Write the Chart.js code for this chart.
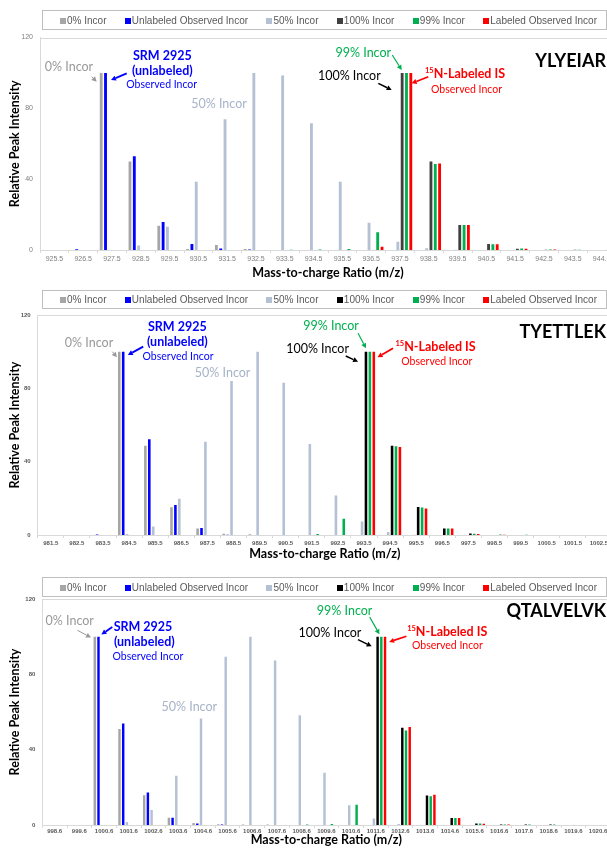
<!DOCTYPE html>
<html lang="en">
<head>
  <meta charset="UTF-8" />
  <title>Isotope distributions</title>
  <script src="https://cdn.jsdelivr.net/npm/chart.js"></script>
  <style>
    html, body { margin: 0; padding: 0; background: #fff; }
    body { width: 607px; height: 848px; overflow: hidden; position: relative; }
    .panel { position: absolute; left: 0; width: 620px; }
    .panel canvas { display: block; }
    .legend {
      position: absolute;
      left: 42px;
      width: 565px;
      box-sizing: border-box;
      border: 1px solid #bfbfbf;
      display: flex;
      align-items: center;
      justify-content: space-between;
      padding: 0 9px 0 17px;
      font-family: "Liberation Sans", Arial, sans-serif;
      font-size: 10px;
      color: #595959;
      white-space: nowrap;
    }
    .legend .sw { display: inline-block; width: 6px; height: 6px; margin-right: 1px; vertical-align: 0; }
  </style>
</head>
<body>
  <div class="panel" style="top:0px">
    <canvas id="c1" width="620" height="283"></canvas>
    <div class="legend" id="l1" style="top:10px;height:20px"></div>
  </div>
  <div class="panel" style="top:283px">
    <canvas id="c2" width="620" height="282"></canvas>
    <div class="legend" id="l2" style="top:7px;height:19px"></div>
  </div>
  <div class="panel" style="top:565px">
    <canvas id="c3" width="620" height="286"></canvas>
    <div class="legend" id="l3" style="top:12px;height:20px"></div>
  </div>

  <script>
    const seriesNames = ['0% Incor', 'Unlabeled Observed Incor', '50% Incor', '100% Incor', '99% Incor', 'Labeled Observed Incor'];

    // YLYEIAR
    const mzYly = ['925.5', '926.5', '927.5', '928.5', '929.5', '930.5', '931.5', '932.5', '933.5', '934.5',
                   '935.5', '936.5', '937.5', '938.5', '939.5', '940.5', '941.5', '942.5', '943.5', '944.5'];
    const ylyZero  = [0, 0, 100, 50, 13.7, 0.6, 2.8, 0.5, 0, 0, 0, 0, 0, 0, 0, 0, 0, 0, 0, 0];
    const ylyUnlab = [0, 0.4, 100, 53, 15.8, 3.4, 0.8, 0.3, 0, 0, 0, 0, 0, 0, 0, 0, 0, 0, 0, 0];
    const ylyHalf  = [0, 0, 0, 2.6, 13.2, 38.5, 73.8, 100, 98.5, 71.6, 38.6, 15.4, 4.6, 1, 0.2, 0, 0, 0, 0, 0];
    const ylyFull  = [0, 0, 0, 0, 0, 0, 0, 0, 0, 0, 0, 0, 100, 50, 14.1, 3.4, 0.7, 0.2, 0.2, 0];
    const ylyNine  = [0, 0, 0, 0, 0, 0, 0, 0, 0.2, 0.3, 0.5, 10, 100, 48.6, 14.1, 3.2, 0.8, 0.3, 0.2, 0.2];
    const ylyLab   = [0, 0, 0, 0, 0, 0, 0, 0, 0, 0, 0, 1.8, 100, 48.9, 14.1, 3.2, 0.7, 0.3, 0, 0];

    // TYETTLEK
    const mzTye = ['981.5', '982.5', '983.5', '984.5', '985.5', '986.5', '987.5', '988.5', '989.5', '990.5', '991.5',
                   '992.5', '993.5', '994.5', '995.5', '996.5', '997.5', '998.5', '999.5', '1000.5', '1001.5', '1002.5'];
    const tyeZero  = [0, 0, 0, 100, 48.7, 15.1, 3.6, 0.7, 0.4, 0, 0, 0, 0, 0, 0, 0, 0, 0, 0, 0, 0, 0];
    const tyeUnlab = [0, 0, 0.3, 100, 52.2, 16.3, 3.8, 0.2, 0, 0, 0, 0, 0, 0, 0, 0, 0, 0, 0, 0, 0, 0];
    const tyeHalf  = [0, 0, 0, 0.5, 4.6, 19.8, 50.9, 84, 100, 83, 49.6, 21.5, 7.3, 1.6, 0.2, 0, 0, 0, 0, 0, 0, 0];
    const tyeFull  = [0, 0, 0, 0, 0, 0, 0, 0, 0, 0, 0, 0, 100, 48.7, 15.3, 3.6, 0.8, 0, 0, 0, 0, 0];
    const tyeNine  = [0, 0, 0, 0, 0, 0, 0, 0, 0, 0, 0.5, 8.9, 100, 48.4, 15, 3.5, 0.7, 0.3, 0.2, 0, 0, 0];
    const tyeLab   = [0, 0, 0, 0, 0, 0, 0, 0, 0, 0, 0, 0, 100, 48, 14.5, 3.5, 0.6, 0.2, 0, 0, 0, 0];

    // QTALVELVK
    const mzQta = ['998.6', '999.6', '1000.6', '1001.6', '1002.6', '1003.6', '1004.6', '1005.6', '1006.6', '1007.6', '1008.6',
                   '1009.6', '1010.6', '1011.6', '1012.6', '1013.6', '1014.6', '1015.6', '1016.6', '1017.6', '1018.6', '1019.6', '1020.6'];
    const qtaZero  = [0, 0, 100, 51, 15.8, 3.9, 1, 0.4, 0.3, 0.2, 0, 0, 0, 0, 0, 0, 0, 0, 0, 0, 0, 0, 0];
    const qtaUnlab = [0, 0, 100, 53.9, 17.2, 3.9, 0.8, 0.3, 0, 0, 0, 0, 0, 0, 0, 0, 0, 0, 0, 0, 0, 0, 0];
    const qtaHalf  = [0, 0, 0, 1.6, 8, 26.2, 56.5, 89.4, 100, 87.4, 58.3, 27.7, 10.5, 3.4, 0.5, 0, 0, 0, 0, 0, 0, 0, 0];
    const qtaFull  = [0, 0, 0, 0, 0, 0, 0, 0, 0, 0, 0, 0, 0, 100, 51.6, 15.6, 3.7, 0.8, 0.3, 0.2, 0.2, 0, 0];
    const qtaNine  = [0, 0, 0, 0, 0, 0, 0, 0, 0, 0, 0.3, 0.5, 10.8, 100, 50.2, 15.2, 3.7, 0.8, 0.3, 0.2, 0.2, 0, 0];
    const qtaLab   = [0, 0, 0, 0, 0, 0, 0, 0, 0, 0, 0, 0, 0, 100, 52.1, 16.1, 3.7, 0.6, 0.3, 0, 0, 0, 0];

    const GRAY = '#999999', BLUE = '#0000ff', STEEL = '#a6b3c8', GREEN = '#00b050', RED = '#ff0000', BLACK = '#000000';

    // text / arrow notes, offsets in px from the left edge of the anchor category and the 100 line
    const T = (at, text, dx, dy, color, font) => ({ at, text, dx, dy, color, font });
    const A = (at, x1, y1, x2, y2, color, lw) => ({ at, arrow: [x1, y1, x2, y2], color, lw });
    const F_REG = '12.5px Lato', F_BOLD = 'bold 12.5px Lato', F_SMALL = '10.5px Lato';

    const notesYly = [
      T('unl', '0% Incor', -28.6, -5.6, GRAY, F_REG),
      A('unl', -5.9, 3.8, -0.9, 8.8, GRAY, 1),
      T('unl', 'SRM 2925', 64.7, -16.9, BLUE, F_BOLD),
      T('unl', '(unlabeled)', 64.7, -2.2, BLUE, F_BOLD),
      T('unl', 'Observed Incor', 64.1, 11.4, BLUE, F_SMALL),
      A('unl', 29.1, 0.4, 13.4, 7.1, BLUE, 1.8),
      T('unl', '50% Incor', 121.4, 31.1, STEEL, F_REG),
      T('lab', '99% Incor', -22.3, -20.2, GREEN, F_REG),
      A('lab', 6.7, -17.9, 16.1, -2.9, GREEN, 1.2),
      T('lab', '100% Incor', -36.3, 3.1, BLACK, F_REG),
      A('lab', -7.3, 10.4, 6.1, 17.1, BLACK, 1.5),
      T('lab', 'iso', 79.4, 1.1, RED, F_BOLD),
      T('lab', 'Observed Incor', 80.9, 16.4, RED, F_SMALL),
      A('lab', 42.7, 3.8, 26.1, 10.4, RED, 1.8)
    ];
    const notesTye = [
      T('unl', '0% Incor', -27, -8.4, GRAY, F_REG),
      A('unl', -3.7, 0, 0.9, 5.6, GRAY, 1),
      T('unl', 'SRM 2925', 61.3, -25, BLUE, F_BOLD),
      T('unl', '(unlabeled)', 61.3, -9.4, BLUE, F_BOLD),
      T('unl', 'Observed Incor', 62, 5, BLUE, F_SMALL),
      A('unl', 27.2, -5, 11.8, 3.3, BLUE, 1.8),
      T('unl', '50% Incor', 106.6, 21.6, STEEL, F_REG),
      T('lab', '99% Incor', -19.9, -25.7, GREEN, F_REG),
      A('lab', 7.1, -18.4, 15, -3.4, GREEN, 1.2),
      T('lab', '100% Incor', -33.4, -2.7, BLACK, F_REG),
      A('lab', -5.2, 4.3, 7.1, 10, BLACK, 1.5),
      T('lab', 'iso', 84.6, -5, RED, F_BOLD),
      T('lab', 'Observed Incor', 85.8, 10, RED, F_SMALL),
      A('lab', 42.1, -3.4, 26.6, 5.6, RED, 1.8)
    ];
    const notesQta = [
      T('unl', '0% Incor', -22, -15.7, GRAY, F_REG),
      A('unl', -14.3, -6.4, -0.7, 0.9, GRAY, 1),
      T('unl', 'SRM 2925', 51.3, -9.7, BLUE, F_BOLD),
      T('unl', '(unlabeled)', 52.6, 5.6, BLUE, F_BOLD),
      T('unl', 'Observed Incor', 56.2, 20.3, BLUE, F_SMALL),
      A('unl', 20.6, -9.7, 9.7, -2.1, BLUE, 1.8),
      T('unl', '50% Incor', 97.6, 70.3, STEEL, F_REG),
      T('lab', '99% Incor', -18.8, -25.7, GREEN, F_REG),
      A('lab', 6.3, -19.7, 16, -2.4, GREEN, 1.2),
      T('lab', '100% Incor', -33.4, -3.7, BLACK, F_REG),
      A('lab', -5.4, 2.9, 8.3, 9.6, BLACK, 1.5),
      T('lab', 'iso', 83.8, -4.7, RED, F_BOLD),
      T('lab', 'Observed Incor', 84, 9.3, RED, F_SMALL),
      A('lab', 43, -0.4, 25.7, 5.3, RED, 1.8)
    ];

    function drawArrow(ctx, x1, y1, x2, y2, color, lw) {
      const ang = Math.atan2(y2 - y1, x2 - x1);
      const head = 5, wing = 2.6;
      const bx = x2 - head * Math.cos(ang), by = y2 - head * Math.sin(ang);
      ctx.strokeStyle = color;
      ctx.fillStyle = color;
      ctx.lineWidth = lw;
      ctx.beginPath();
      ctx.moveTo(x1, y1);
      ctx.lineTo(bx, by);
      ctx.stroke();
      ctx.beginPath();
      ctx.moveTo(x2, y2);
      ctx.lineTo(bx + wing * Math.sin(ang), by - wing * Math.cos(ang));
      ctx.lineTo(bx - wing * Math.sin(ang), by + wing * Math.cos(ang));
      ctx.closePath();
      ctx.fill();
    }

    const noteLayer = {
      id: 'noteLayer',
      afterDatasetsDraw(chart, args, opts) {
        const { ctx, chartArea: area } = chart;
        const x = chart.scales.x, y = chart.scales.y;
        const half = (x.getPixelForValue(1) - x.getPixelForValue(0)) / 2;
        const base = {
          unl: x.getPixelForValue(opts.unlIndex) - half,
          lab: x.getPixelForValue(opts.labIndex) - half
        };
        const top100 = y.getPixelForValue(100);
        ctx.save();
        // thin frame line along the top of the plot
        ctx.strokeStyle = '#d9d9d9';
        ctx.lineWidth = 1;
        ctx.beginPath();
        ctx.moveTo(area.left, Math.round(area.top) + 0.5);
        ctx.lineTo(area.right, Math.round(area.top) + 0.5);
        ctx.stroke();

        ctx.textBaseline = 'middle';
        ctx.textAlign = 'right';
        ctx.fillStyle = '#000';
        ctx.font = 'bold 18px Lato';
        ctx.fillText(opts.peptide, opts.peptideRight, area.top + opts.peptideDy);

        opts.notes.forEach(n => {
          const bx = base[n.at];
          if (n.arrow) {
            drawArrow(ctx, bx + n.arrow[0], top100 + n.arrow[1], bx + n.arrow[2], top100 + n.arrow[3], n.color, n.lw);
            return;
          }
          const cx = bx + n.dx, cy = top100 + n.dy;
          ctx.fillStyle = n.color;
          if (n.text === 'iso') {
            ctx.font = 'bold 7.5px Lato';
            const w1 = ctx.measureText('15').width;
            ctx.font = n.font;
            const w2 = ctx.measureText('N-Labeled IS').width;
            const x0 = cx - (w1 + w2) / 2;
            ctx.textAlign = 'left';
            ctx.font = 'bold 7.5px Lato';
            ctx.fillText('15', x0, cy - 3.5);
            ctx.font = n.font;
            ctx.fillText('N-Labeled IS', x0 + w1, cy);
          } else {
            ctx.textAlign = 'center';
            ctx.font = n.font;
            ctx.fillText(n.text, cx, cy);
          }
        });
        ctx.restore();
      }
    };

    function buildLegend(id, colors) {
      const box = document.getElementById(id);
      seriesNames.forEach((name, i) => {
        const item = document.createElement('span');
        item.innerHTML = '<span class="sw" style="background:' + colors[i] + '"></span>' + name;
        box.appendChild(item);
      });
    }

    function makeChart(canvasId, labels, series, look) {
      const colors = ['#a6a6a6', '#0000ff', '#b4c0d4', look.dark, '#00b050', '#ff0000'];
      buildLegend(look.legendId, colors);
      const datasets = series.map((values, i) => ({
        label: seriesNames[i],
        data: values,
        backgroundColor: colors[i],
        borderWidth: 0,
        categoryPercentage: 0.9,
        barPercentage: 0.66
      }));
      return new Chart(document.getElementById(canvasId), {
        type: 'bar',
        data: { labels, datasets },
        plugins: [noteLayer],
        options: {
          responsive: false,
          animation: false,
          layout: { padding: { top: look.padTop, right: look.padRight, bottom: 0, left: 0 } },
          plugins: {
            legend: { display: false },
            tooltip: { enabled: false },
            noteLayer: {
              notes: look.notes,
              unlIndex: series[1].indexOf(100),
              labIndex: series[5].indexOf(100),
              peptide: look.peptide,
              peptideRight: 606,
              peptideDy: look.peptideDy
            }
          },
          scales: {
            x: {
              afterFit: s => { s.height = look.xHeight; },
              grid: { offset: true, drawOnChartArea: false, tickLength: 3, color: '#d9d9d9' },
              border: { color: '#d9d9d9' },
              ticks: { autoSkip: false, maxRotation: 0, padding: look.xPad, font: look.tickFont, color: look.tickColor },
              title: {
                display: true,
                text: 'Mass-to-charge Ratio (m/z)',
                color: '#000',
                font: { family: 'Lato', size: 12.5, weight: 'bold' },
                padding: { top: 0, bottom: look.xTitlePb }
              }
            },
            y: {
              min: 0,
              max: 120,
              afterFit: s => { s.width = look.yWidth; },
              grid: { display: false, drawTicks: false },
              border: { color: '#d9d9d9' },
              ticks: { stepSize: 40, padding: 7, font: look.tickFont, color: look.tickColor },
              title: {
                display: true,
                text: 'Relative Peak Intensity',
                color: '#000',
                font: { family: 'Lato', size: 12.5, weight: 'bold' },
                padding: { top: 7, bottom: 0 }
              }
            }
          }
        }
      });
    }

    makeChart('c1', mzYly, [ylyZero, ylyUnlab, ylyHalf, ylyFull, ylyNine, ylyLab], {
      legendId: 'l1', dark: '#404040', notes: notesYly, peptide: 'YLYEIAR', peptideDy: 23.5,
      padTop: 37.5, padRight: 4, yWidth: 40, xHeight: 33, xPad: 2, xTitlePb: 3,
      tickFont: { family: 'Liberation Sans', size: 7 }, tickColor: '#7f7f7f'
    });
    makeChart('c2', mzTye, [tyeZero, tyeUnlab, tyeHalf, tyeFull, tyeNine, tyeLab], {
      legendId: 'l2', dark: '#000000', notes: notesTye, peptide: 'TYETTLEK', peptideDy: 16.7,
      padTop: 32, padRight: 8, yWidth: 37.7, xHeight: 30, xPad: 2, xTitlePb: 4,
      tickFont: { family: 'Liberation Sans', size: 6, weight: 'bold' }, tickColor: '#595959'
    });
    makeChart('c3', mzQta, [qtaZero, qtaUnlab, qtaHalf, qtaFull, qtaNine, qtaLab], {
      legendId: 'l3', dark: '#000000', notes: notesQta, peptide: 'QTALVELVK', peptideDy: 11.7,
      padTop: 34, padRight: 9.6, yWidth: 42.3, xHeight: 26, xPad: 0, xTitlePb: 4,
      tickFont: { family: 'Liberation Sans', size: 6, weight: 'bold' }, tickColor: '#595959'
    });
  </script>
</body>
</html>
